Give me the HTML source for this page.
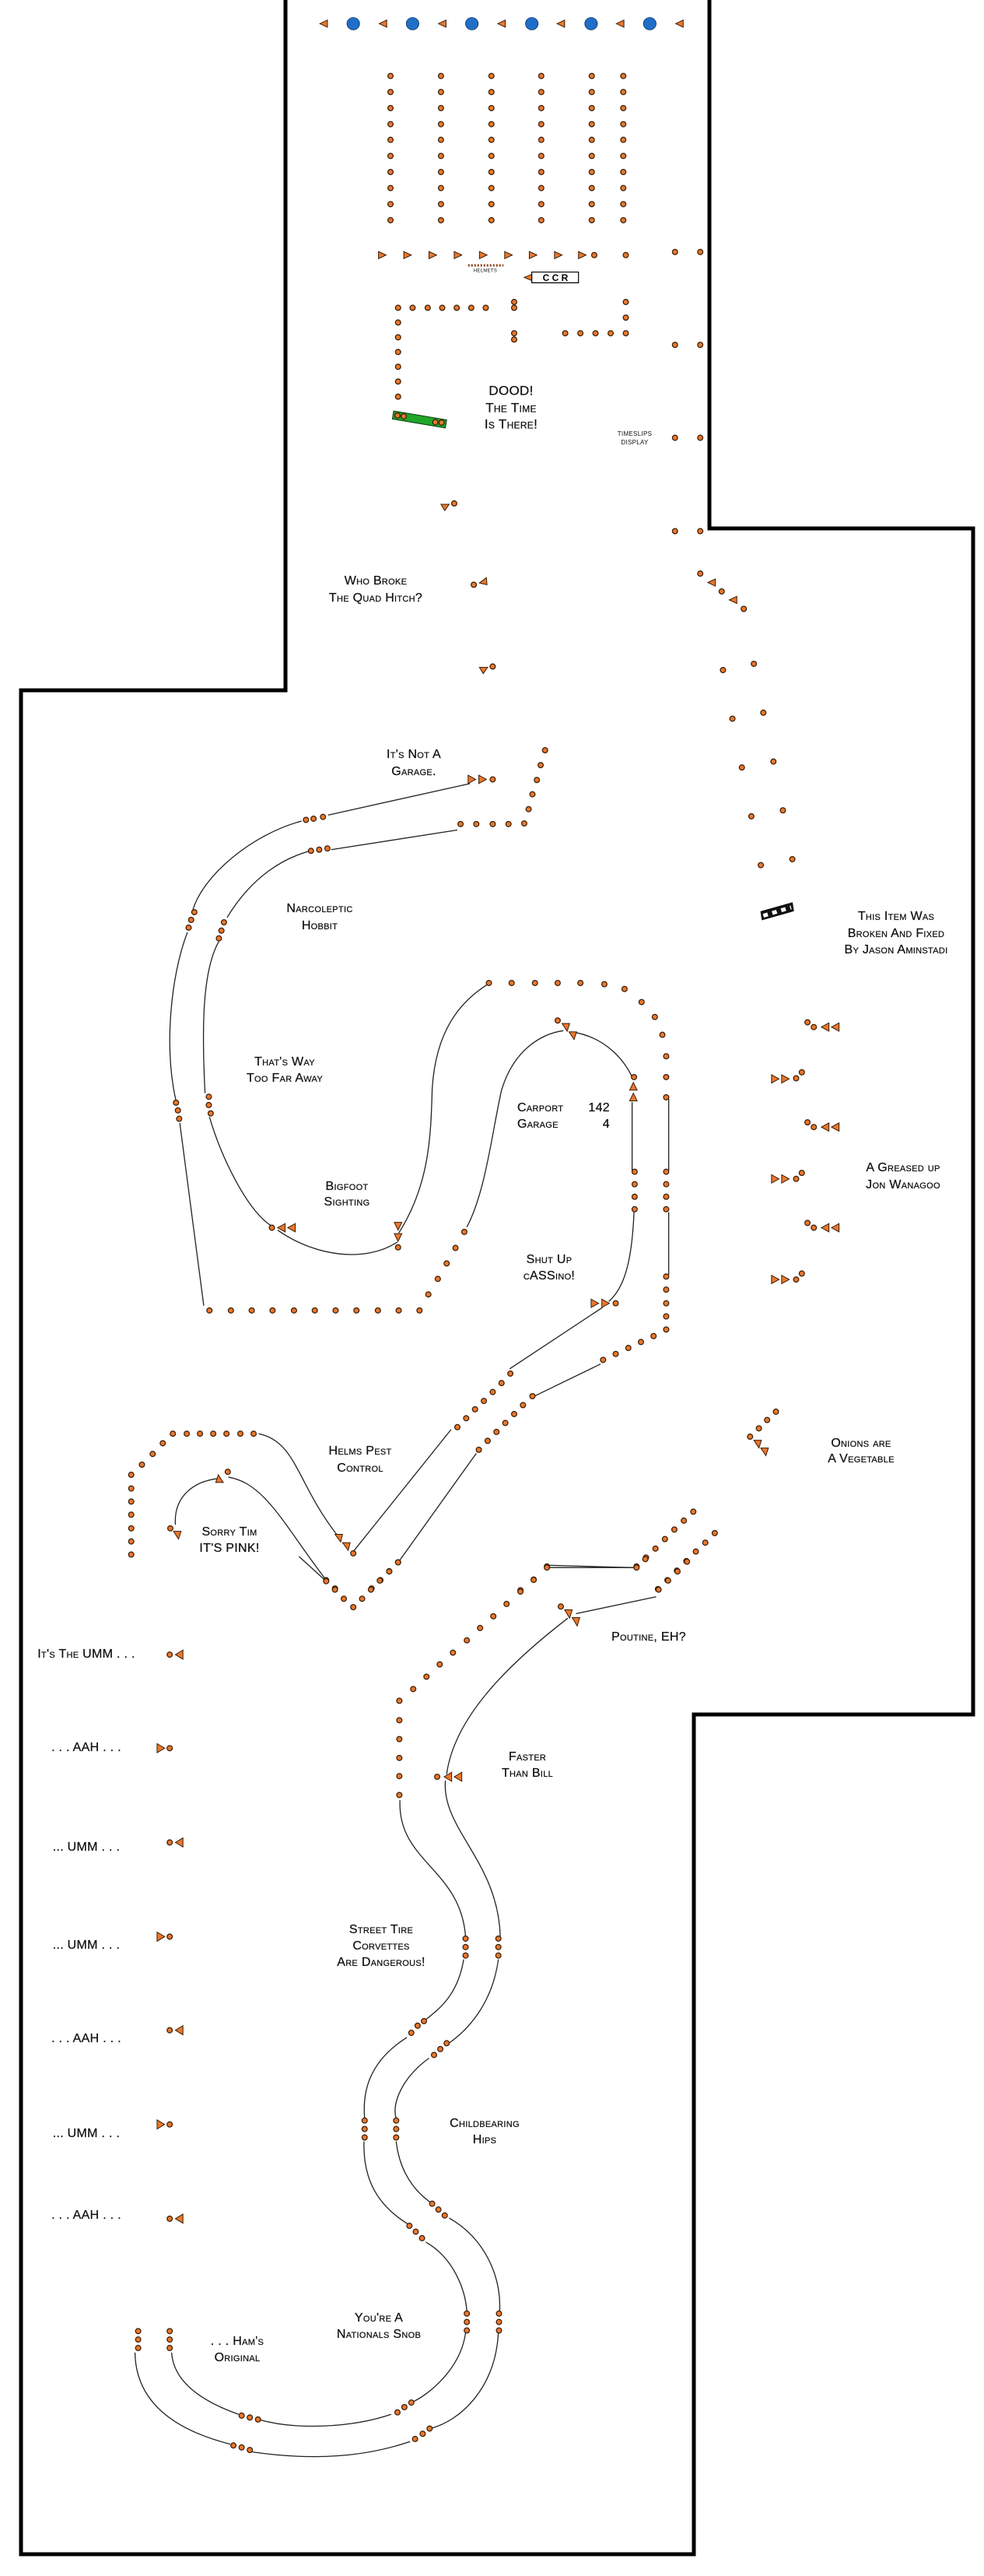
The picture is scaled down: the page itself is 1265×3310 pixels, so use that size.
<!DOCTYPE html>
<html><head><meta charset="utf-8"><style>
html,body{margin:0;padding:0;background:#fff}
svg{display:block}
.t{font-family:"Liberation Sans",sans-serif;font-size:16px;font-variant:small-caps;text-anchor:middle;dominant-baseline:middle;fill:#111;stroke:#111;stroke-width:0.25;letter-spacing:0.3px}
.ln{fill:none;stroke:#222;stroke-width:1.3;vector-effect:non-scaling-stroke}
.tr{fill:#e8782e;stroke:#3b1d05;stroke-width:1;vector-effect:non-scaling-stroke}
.dp{fill:none;stroke-linecap:round;vector-effect:non-scaling-stroke}
</style></head><body>
<svg width="1265" height="3310" viewBox="0 0 1265 3310" xmlns="http://www.w3.org/2000/svg">
<defs>
<path id="d1" class="dp" d="M619 170h0M699 170h0M779 170h0M858 170h0M938 170h0M988 170h0M619 206h0M699 206h0M779 206h0M858 206h0M938 206h0M988 206h0M619 242h0M699 242h0M779 242h0M858 242h0M938 242h0M988 242h0M619 278h0M699 278h0M779 278h0M858 278h0M938 278h0M988 278h0M619 313h0M699 313h0M779 313h0M858 313h0M938 313h0M988 313h0M619 349h0M699 349h0M779 349h0M858 349h0M938 349h0M988 349h0M619 385h0M699 385h0M779 385h0M858 385h0M938 385h0M988 385h0M619 421h0M699 421h0M779 421h0M858 421h0M938 421h0M988 421h0M619 457h0M699 457h0M779 457h0M858 457h0M938 457h0M988 457h0M619 493h0M699 493h0M779 493h0M858 493h0M938 493h0M988 493h0
M942 571h0M992 571h0M1070 564h0M1110 564h0
M631 689h0M654 689h0M678 689h0M701 689h0M724 689h0M747 689h0M770 689h0M815 676h0M815 689h0
M631 722h0M631 755h0M631 788h0M631 821h0M631 854h0M631 888h0M815 746h0M815 760h0M992 676h0M992 711h0
M896 746h0M920 746h0M944 746h0M968 746h0M992 746h0M1070 772h0M1110 772h0
M1070 980h0M1110 980h0M720 1127h0M1070 1189h0M1110 1189h0M751 1309h0M1110 1284h0M1144 1324h0M1179 1363h0M781 1492h0M1146 1500h0M1195 1486h0"/>
<path id="d2" class="dp" d="M1161 96h0M1210 86h0M1176 178h0M1226 168h0M1191 260h0M1241 250h0M1206 342h0M1256 332h0
M781 198h0M864 149h0M857 174h0M851 199h0M844 223h0M838 248h0M831 272h0M806 273h0M781 273h0M755 273h0M730 273h0
M485 266h0M497 264h0M512 261h0M308 421h0M303 434h0M299 447h0M279 741h0M282 754h0M284 768h0
M332 1090h0M366 1090h0M399 1090h0M432 1090h0M466 1090h0M499 1090h0M532 1090h0M565 1090h0M599 1090h0M632 1090h0M665 1090h0
M679 1063h0M694 1037h0M708 1011h0M722 985h0M736 958h0
M493 318h0M506 316h0M519 314h0M355 438h0M351 452h0M347 465h0M331 731h0M331 745h0M334 759h0M431 951h0M631 984h0
M775 540h0M811 540h0M848 540h0M884 540h0M920 540h0M958 542h0M990 550h0M1017 572h0M1038 597h0M1050 627h0M1056 663h0M1056 698h0M1056 732h0
M1056 857h0M1056 878h0M1056 899h0M1056 920h0M1056 1033h0M1056 1055h0M1056 1078h0M1056 1100h0M1056 1122h0M1036 1133h0M1016 1143h0M996 1153h0M976 1163h0M956 1173h0
M844 1234h0M829 1249h0M815 1264h0M801 1279h0M787 1294h0M773 1309h0M759 1324h0M631 1513h0M617 1528h0M603 1543h0M589 1557h0
M884 603h0M1005 698h0M1006 857h0M1006 878h0M1006 899h0M1006 920h0M976 1078h0
M809 1196h0M795 1212h0M781 1227h0M767 1242h0M753 1256h0M739 1271h0M725 1286h0M560 1498h0
M274 1297h0M296 1297h0M317 1297h0M338 1297h0M359 1297h0M381 1297h0M402 1297h0M258 1313h0M242 1331h0M225 1349h0M208 1366h0M208 1389h0M208 1411h0M208 1433h0M208 1456h0M208 1478h0M208 1500h0
M270 1456h0M361 1361h0
M1280 606h0M1290 614h0M1262 700h0M1271 690h0M1280 774h0M1290 782h0M1262 869h0M1271 859h0M1280 943h0M1290 951h0M1262 1038h0M1271 1028h0
M1230 1260h0M1216 1274h0M1203 1288h0M1189 1302h0
M1099 1428h0M1084 1443h0M1069 1458h0M1054 1474h0M1039 1490h0M1024 1505h0M1009 1520h0M867 1520h0M846 1542h0M825 1560h0
M1133 1464h0M1118 1480h0M1103 1495h0M1088 1511h0M1073 1527h0M1058 1543h0M1043 1558h0M517 1543h0M531 1557h0"/>
<path id="d3" class="dp" d="M269 151h0M269 295h0M269 440h0M269 585h0M269 729h0M269 874h0M269 1019h0
M517 38h0M531 51h0M545 65h0M560 78h0M574 65h0M588 51h0M602 37h0M617 23h0M631 9h0
M867 17h0M1009 17h0M1023 4h0M1044 51h0M1059 37h0M1074 23h0M1089 8h0M889 77h0
M846 36h0M825 54h0M803 73h0M782 92h0M761 110h0M740 129h0M718 148h0M697 166h0M676 185h0M655 204h0M633 222h0
M633 252h0M633 281h0M633 310h0M633 338h0M633 367h0M693 339h0
M738 588h0M738 601h0M738 614h0M672 715h0M662 722h0M652 733h0M578 868h0M578 881h0M578 894h0M649 1030h0M659 1039h0M669 1049h0
M740 1165h0M740 1178h0M740 1191h0M652 1302h0M641 1309h0M630 1317h0M409 1328h0M396 1325h0M383 1322h0M269 1192h0M269 1205h0M269 1218h0
M790 588h0M790 601h0M790 614h0M708 749h0M698 758h0M688 767h0M628 868h0M628 881h0M628 894h0M685 996h0M695 1005h0M705 1014h0
M791 1165h0M791 1178h0M791 1191h0M681 1342h0M670 1350h0M658 1358h0M396 1375h0M383 1371h0M370 1368h0M219 1192h0M219 1205h0M219 1218h0"/>
</defs>

<path d="M367 0 L367 887 L27 887 L27 3282 L892 3282 L892 2203 L1251 2203 L1251 679 L912 679 L912 0" fill="none" stroke="#000" stroke-width="5"/>

<!-- ZONE 1 -->
<g transform="scale(0.811,0.574)">
<g fill="#1f6fc8" stroke="#0b2a55" stroke-width="1" style="vector-effect:non-scaling-stroke">
<ellipse cx="560" cy="53" rx="10" ry="14"/><ellipse cx="654" cy="53" rx="10" ry="14"/><ellipse cx="748" cy="53" rx="10" ry="14"/><ellipse cx="843" cy="53" rx="10" ry="14"/><ellipse cx="937" cy="53" rx="10" ry="14"/><ellipse cx="1030" cy="53" rx="10" ry="14"/>
</g>
<path class="tr" d="M507 53L519 45L519 61ZM601 53L613 45L613 61ZM695 53L707 45L707 61ZM789 53L801 45L801 61ZM883 53L895 45L895 61ZM977 53L989 45L989 61ZM1071 53L1083 45L1083 61Z
M612 571L600 563L600 579ZM652 571L640 563L640 579ZM692 571L680 563L680 579ZM732 571L720 563L720 579ZM772 571L760 563L760 579ZM812 571L800 563L800 579ZM851 571L839 563L839 579ZM891 571L879 563L879 579ZM929 571L917 563L917 579Z
M705 1143L699 1129L712 1129ZM760 1305L771 1293L772 1309ZM1122 1304L1134 1296L1134 1312ZM1156 1343L1168 1335L1168 1351ZM766 1508L760 1494L773 1494Z"/>
<polygon points="624,920 708,940 706,958 622,938" fill="#21a52a" stroke="#0b3b0b" stroke-width="1" style="vector-effect:non-scaling-stroke"/>
<path class="dp" d="M630 930h0M640 932h0M690 945h0M700 946h0" stroke="#3b1d05" stroke-width="8"/>
<path class="dp" d="M630 930h0M640 932h0M690 945h0M700 946h0" stroke="#e8782e" stroke-width="5.5"/>
<path d="M742 594 L798 594" stroke="#8a3a10" stroke-width="3" stroke-dasharray="2 2" style="vector-effect:non-scaling-stroke"/>
<path class="tr" d="M831 621L843 614L843 628Z"/>
<rect x="843" y="609" width="74" height="24" fill="#fff" stroke="#000" stroke-width="1.2" style="vector-effect:non-scaling-stroke"/>
<use href="#d1" stroke="#3b1d05" stroke-width="8"/>
<use href="#d1" stroke="#e8782e" stroke-width="5.5"/>
</g>

<!-- ZONE 2 -->
<g transform="translate(0,850) scale(0.811,0.765)">
<path class="ln" d="M745 205 L520 258 M478 268 C400 290 320 360 305 420 M297 455 C270 530 260 650 279 738 M285 775 L323 1082
M632 960 C680 880 683 800 685 720 C690 620 730 570 775 541
M740 950 C770 890 780 790 795 720 C815 650 860 625 893 620
M905 622 C960 630 990 670 1003 700 M1060 735 L1060 855 M1060 925 L1060 1030 M1002 740 L1002 855
M1005 925 C1002 1000 992 1050 965 1075 M955 1085 L808 1188 M952 1180 L845 1235 M755 1330 L630 1515 M715 1290 L560 1495
M410 1297 C470 1310 470 1380 535 1468 M278 1450 C275 1400 310 1375 350 1372 M362 1370 C420 1380 450 1450 515 1540
M440 955 C500 1000 580 1010 630 975 M332 765 C350 830 390 920 430 948 M325 725 C320 620 320 520 347 470
M360 430 C400 360 450 330 492 318 M525 316 L725 283 M870 1518 L1005 1522"/>
<path class="tr" d="M754 198L742 191L742 205ZM771 198L759 191L759 205Z
M440 951L452 944L452 958ZM456 951L468 944L468 958Z
M631 955L625 942L637 942ZM631 974L625 961L637 961Z
M899 621L891 608L903 608ZM910 635L902 622L914 622Z
M1004 707L998 720L1010 720ZM1004 725L998 738L1010 738Z
M949 1078L937 1071L937 1085ZM966 1078L954 1071L954 1085Z
M540 1479L531 1466L543 1466ZM552 1493L543 1480L555 1480Z
M283 1474L275 1461L287 1461ZM346 1366L342 1379L354 1379Z
M1302 614L1314 607L1314 621ZM1318 614L1330 607L1330 621Z
M1235 701L1223 694L1223 708ZM1251 701L1239 694L1239 708Z
M1302 782L1314 775L1314 789ZM1318 782L1330 775L1330 789Z
M1235 869L1223 862L1223 876ZM1251 869L1239 862L1239 876Z
M1302 951L1314 944L1314 958ZM1318 951L1330 944L1330 958Z
M1235 1038L1223 1031L1223 1045ZM1251 1038L1239 1031L1239 1045Z
M1203 1321L1195 1308L1207 1308ZM1214 1334L1206 1321L1218 1321Z"/>
<polygon points="1206,420 1256,405 1258,419 1208,434" fill="#111" stroke="#000"/>
<path d="M1210 427 L1254 413" stroke="#fff" stroke-width="5" stroke-dasharray="6 6" style="vector-effect:non-scaling-stroke"/>
<use href="#d2" stroke="#3b1d05" stroke-width="8"/>
<use href="#d2" stroke="#e8782e" stroke-width="5.5"/>
</g>

<!-- ZONE 3 -->
<g transform="translate(0,2000) scale(0.811,0.835)">
<path class="ln" d="M474 0 L517 38 M867 17 L1009 17 M1040 62 L913 88 M900 95 C800 170 720 250 708 335
M634 375 C630 470 730 480 738 585 M735 620 C725 680 690 700 672 715 M645 740 C580 780 575 830 578 865 M577 900 C575 960 600 1000 648 1028
M675 1055 C720 1080 738 1130 740 1162 M738 1195 C730 1250 680 1290 652 1302 M620 1320 C560 1340 470 1345 410 1328 M378 1320 C320 1300 275 1270 272 1225
M706 345 C700 420 790 470 793 585 M790 620 C780 690 740 730 710 750 M680 772 C640 800 620 840 628 865 M628 900 C635 960 670 985 685 996
M712 1018 C770 1050 795 1110 792 1162 M790 1195 C785 1280 730 1330 682 1342 M650 1362 C580 1385 500 1392 400 1378 M365 1366 C260 1340 215 1290 214 1225"/>
<path class="tr" d="M278 151L290 144L290 158ZM261 295L249 288L249 302ZM278 440L290 433L290 447ZM261 585L249 578L249 592ZM278 729L290 722L290 736ZM261 874L249 867L249 881ZM278 1019L290 1012L290 1026Z
M903 95L895 82L907 82ZM915 107L907 94L919 94ZM704 339L716 332L716 346ZM720 339L732 332L732 346Z"/>
<use href="#d3" stroke="#3b1d05" stroke-width="8"/>
<use href="#d3" stroke="#e8782e" stroke-width="5.5"/>
</g>

<!-- TEXT -->
<text class="t" x="624" y="348" style="font-size:6px;stroke-width:0">HELMETS</text>
<text x="714" y="358" style="font-family:'Liberation Sans',sans-serif;font-size:12px;font-weight:bold;text-anchor:middle;dominant-baseline:middle">C C R</text>
<text class="t" x="657" y="503" style="font-size:17px">DOOD!</text>
<text class="t" x="657" y="525" style="font-size:17px">The Time</text>
<text class="t" x="657" y="546" style="font-size:17px">Is There!</text>
<text class="t" x="816" y="558" style="font-size:8px;font-variant:normal;stroke-width:0">TIMESLIPS</text>
<text class="t" x="816" y="569" style="font-size:8px;font-variant:normal;stroke-width:0">DISPLAY</text>
<text class="t" x="483" y="747">Who Broke</text>
<text class="t" x="483" y="769">The Quad Hitch?</text>
<text class="t" x="532" y="970">It's Not A</text>
<text class="t" x="532" y="992">Garage.</text>
<text class="t" x="411" y="1168">Narcoleptic</text>
<text class="t" x="411" y="1190">Hobbit</text>
<text class="t" x="1152" y="1178">This Item Was</text>
<text class="t" x="1152" y="1200">Broken And Fixed</text>
<text class="t" x="1152" y="1221">By Jason Aminstadi</text>
<text class="t" x="366" y="1365">That's Way</text>
<text class="t" x="366" y="1386">Too Far Away</text>
<text class="t" x="665" y="1424" style="text-anchor:start">Carport</text>
<text class="t" x="784" y="1424" style="text-anchor:end">142</text>
<text class="t" x="665" y="1445" style="text-anchor:start">Garage</text>
<text class="t" x="784" y="1445" style="text-anchor:end">4</text>
<text class="t" x="1161" y="1501">A Greased up</text>
<text class="t" x="1161" y="1523">Jon Wanagoo</text>
<text class="t" x="446" y="1525">Bigfoot</text>
<text class="t" x="446" y="1545">Sighting</text>
<text class="t" x="706" y="1619">Shut Up</text>
<text class="t" x="706" y="1640">cASSino!</text>
<text class="t" x="1107" y="1855">Onions are</text>
<text class="t" x="1107" y="1875">A Vegetable</text>
<text class="t" x="463" y="1865">Helms Pest</text>
<text class="t" x="463" y="1887">Control</text>
<text class="t" x="295" y="1969">Sorry Tim</text>
<text class="t" x="295" y="1990">IT'S PINK!</text>
<text class="t" x="111" y="2126">It's The UMM . . .</text>
<text class="t" x="111" y="2246">. . . AAH . . .</text>
<text class="t" x="111" y="2374">... UMM . . .</text>
<text class="t" x="111" y="2500">... UMM . . .</text>
<text class="t" x="111" y="2620">. . . AAH . . .</text>
<text class="t" x="111" y="2742">... UMM . . .</text>
<text class="t" x="111" y="2847">. . . AAH . . .</text>
<text class="t" x="834" y="2104">Poutine, EH?</text>
<text class="t" x="678" y="2258">Faster</text>
<text class="t" x="678" y="2279">Than Bill</text>
<text class="t" x="490" y="2480">Street Tire</text>
<text class="t" x="490" y="2501">Corvettes</text>
<text class="t" x="490" y="2522">Are Dangerous!</text>
<text class="t" x="623" y="2729">Childbearing</text>
<text class="t" x="623" y="2750">Hips</text>
<text class="t" x="487" y="2979">You're A</text>
<text class="t" x="487" y="3000">Nationals Snob</text>
<text class="t" x="305" y="3009">. . . Ham's</text>
<text class="t" x="305" y="3030">Original</text>
</svg>
</body></html>
